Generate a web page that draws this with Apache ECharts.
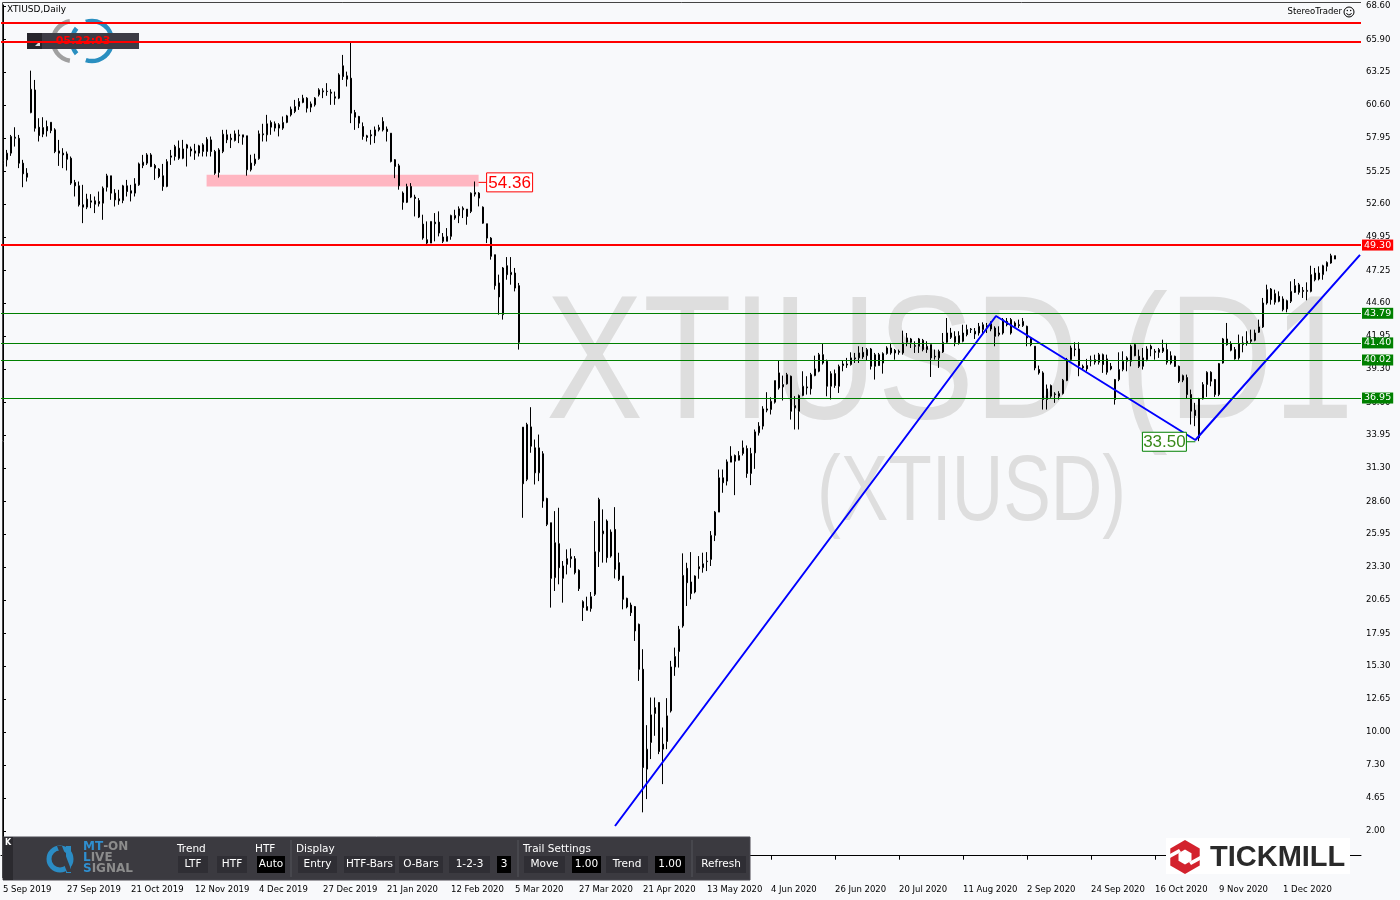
<!DOCTYPE html>
<html><head><meta charset="utf-8">
<script src="https://cdn.jsdelivr.net/npm/echarts@6/dist/echarts.min.js"></script>
<style>html,body{margin:0;padding:0;background:#f8f9fb;}#c{width:1400px;height:900px;}</style>
</head><body><div id="c"></div>
<script>
// ---------------- DATA ----------------
const OPEN=[55.91,56.18,56.72,57.92,57.92,55.91,55.10,59.99,61.82,58.81,58.25,58.87,59.21,58.60,56.90,56.72,56.66,56.31,54.35,54.08,52.55,52.36,52.76,52.87,52.63,52.68,53.97,54.89,53.49,53.03,52.90,54.08,53.68,53.49,54.16,55.72,55.91,56.58,55.72,55.43,54.89,54.03,56.39,56.45,57.12,57.06,57.12,57.06,56.90,56.72,56.85,56.85,57.79,56.85,55.16,56.85,58.20,57.80,57.74,58.12,58.01,58.12,55.38,55.86,56.27,58.20,58.20,59.20,59.09,59.01,58.74,59.20,59.81,60.08,60.48,60.81,61.16,60.43,60.62,61.43,61.67,61.72,61.64,61.27,61.16,63.77,62.96,62.77,60.00,59.68,58.87,58.12,58.20,58.12,58.60,59.28,58.66,58.33,56.19,55.70,53.50,52.75,54.03,53.17,52.90,50.99,49.73,49.46,51.15,51.15,49.95,49.60,50.00,51.48,51.66,52.15,52.20,52.01,53.41,53.49,52.36,51.02,49.86,48.52,46.24,43.68,47.63,46.91,47.04,46.02,34.60,30.38,34.62,32.93,30.91,32.45,28.84,26.88,22.45,25.19,22.39,23.52,24.14,23.98,23.04,20.51,20.11,19.95,21.10,24.54,25.99,27.02,24.19,26.34,23.66,22.58,20.78,20.24,20.11,18.68,15.05,6.99,9.14,11.48,12.37,8.60,9.22,11.69,15.24,16.48,18.55,23.20,22.10,21.29,23.33,23.25,23.74,23.92,25.86,27.74,30.51,30.24,31.77,32.31,31.93,32.47,32.87,30.86,32.52,34.14,34.68,35.97,36.02,36.61,38.98,37.85,38.09,38.71,36.15,35.88,37.15,37.85,37.69,38.76,39.11,40.45,39.92,37.90,38.92,37.90,39.57,39.62,39.65,40.11,40.19,40.64,40.37,40.91,39.51,40.45,39.78,40.54,40.59,40.80,40.72,40.59,41.45,41.72,41.18,41.13,41.61,40.86,41.26,40.32,40.19,40.67,41.45,42.20,41.45,41.40,41.53,42.47,42.47,42.34,42.20,42.47,42.66,42.52,42.60,42.07,42.20,43.14,43.28,43.01,42.87,42.79,42.74,41.80,41.13,39.25,38.98,36.83,37.09,37.28,37.09,37.31,38.36,40.05,40.91,40.91,39.51,39.57,39.94,39.84,39.84,40.45,39.03,39.51,38.44,38.44,39.25,39.92,39.92,41.26,40.32,39.51,40.05,41.13,40.72,40.64,40.72,40.86,39.78,40.32,39.51,38.39,38.60,37.23,35.97,33.74,36.88,38.04,39.03,38.44,37.23,39.78,41.72,41.32,40.86,40.19,41.26,41.40,41.66,41.61,42.26,42.69,44.62,45.75,44.68,45.16,44.95,44.14,44.76,46.02,45.48,45.64,45.56,45.56,47.04,46.56,46.91,47.58,47.85,48.44];
const CLOSE=[56.12,56.72,58.06,58.01,55.91,55.05,54.78,61.88,58.73,58.14,58.79,58.52,58.54,56.85,56.72,56.58,56.23,54.30,54.08,52.55,52.36,53.01,52.87,52.60,52.82,53.89,54.89,53.49,52.95,52.87,54.08,53.62,53.49,54.24,55.85,55.99,56.58,55.64,55.51,54.83,54.03,56.04,56.50,57.25,56.31,56.31,57.39,56.90,56.72,57.31,57.39,57.84,56.85,55.10,56.98,58.25,57.80,57.93,58.28,58.20,58.20,55.38,55.92,56.24,58.28,58.28,59.09,58.82,58.74,58.74,59.20,59.73,60.27,60.48,60.89,61.16,60.35,60.70,61.16,61.83,61.75,61.69,61.56,61.16,63.04,62.90,62.69,59.95,59.62,59.14,58.07,57.99,58.12,58.60,58.79,58.60,58.47,56.05,55.65,54.09,52.75,54.03,53.17,53.06,51.56,49.87,49.46,51.21,51.02,50.27,49.60,50.00,51.69,51.69,52.23,52.28,51.61,53.49,53.55,53.09,51.07,49.86,48.39,46.02,45.11,47.45,46.91,47.10,45.83,41.45,30.03,34.81,33.06,30.91,32.93,28.63,26.75,22.39,25.27,23.25,23.39,23.98,23.98,22.85,21.56,20.03,19.81,20.91,24.54,28.76,26.21,24.06,26.13,23.12,22.31,20.70,20.08,19.62,18.15,15.05,7.12,8.60,11.37,11.96,8.41,9.01,11.29,15.24,16.08,18.28,22.63,22.04,21.16,22.58,23.17,23.57,23.79,25.86,27.74,30.51,30.11,31.80,32.26,31.85,32.31,32.93,30.86,32.47,34.22,34.68,36.07,36.07,36.69,38.36,37.77,38.04,38.84,35.88,36.34,37.15,37.90,37.77,38.84,39.30,40.45,39.78,37.90,38.92,37.96,39.51,39.70,39.70,40.19,40.19,40.59,40.27,40.86,39.51,40.45,39.57,40.54,40.99,40.99,40.59,40.64,41.40,41.80,41.45,41.13,41.72,40.86,41.13,40.19,40.27,40.72,41.45,42.20,41.85,41.93,41.99,42.20,42.07,42.52,42.12,42.74,42.87,42.79,42.95,41.93,42.20,43.28,42.87,42.20,42.74,42.79,43.14,41.80,41.26,39.38,38.98,36.83,37.69,37.96,37.23,37.31,38.39,40.05,40.99,40.86,39.57,39.38,39.30,40.00,40.05,40.45,39.65,40.11,39.30,36.83,39.25,39.92,40.19,41.13,40.37,39.51,40.19,40.91,40.91,40.64,40.86,40.99,39.84,40.37,39.51,38.31,38.76,37.23,35.89,35.54,36.88,38.04,39.03,38.31,37.23,39.73,41.72,41.26,40.81,40.11,41.34,41.40,41.53,41.53,42.20,42.69,44.62,45.70,44.89,45.38,44.76,44.09,44.81,45.56,45.48,46.10,45.56,45.64,46.91,46.50,47.04,47.63,47.90,48.44,48.17];
const HIGH=[57.74,56.98,58.19,58.81,58.19,56.18,55.51,63.38,62.63,59.54,59.62,59.35,59.21,58.73,57.79,57.12,56.85,56.45,54.56,54.43,54.16,53.44,53.41,53.22,53.62,54.03,55.05,54.89,53.81,53.76,54.16,54.56,54.16,54.70,55.96,56.58,56.72,56.72,55.85,55.51,55.85,56.23,56.98,57.39,57.74,57.79,57.47,57.25,57.47,57.39,57.52,58.01,58.06,56.98,57.12,58.60,58.61,58.28,58.55,58.61,58.20,58.12,56.59,56.67,58.55,59.09,59.81,59.36,59.28,59.14,59.68,59.81,60.48,61.02,61.16,61.43,61.24,60.89,61.24,61.96,61.96,62.37,61.88,61.69,63.17,64.65,63.30,65.62,60.21,59.73,59.20,58.20,58.60,58.87,59.01,59.62,58.87,58.33,56.24,55.86,53.63,54.25,54.30,53.36,53.09,51.75,51.21,51.21,51.88,52.02,50.27,50.67,51.75,52.15,52.42,52.42,52.20,53.55,54.43,53.57,52.42,51.02,49.94,48.52,46.91,47.53,48.33,48.33,47.45,46.24,34.60,34.95,36.21,33.60,34.00,32.66,28.90,26.88,27.82,28.09,23.79,24.73,24.81,24.19,23.12,20.62,20.91,21.29,27.02,28.90,27.96,27.15,26.34,28.14,24.46,22.58,20.83,20.43,20.16,18.74,16.67,10.54,12.77,12.77,12.37,10.35,12.72,15.73,16.80,18.55,24.41,23.65,24.51,22.63,24.19,24.46,24.51,26.21,27.82,31.18,31.18,31.99,33.06,32.39,32.66,33.52,33.12,32.93,34.41,35.00,36.29,37.42,37.01,38.36,40.00,38.76,38.98,38.76,37.10,37.23,39.11,38.71,38.98,40.37,40.59,41.34,40.05,39.11,39.25,39.65,39.97,40.19,40.64,40.59,41.13,41.07,40.99,40.99,40.59,40.59,40.64,41.13,41.40,40.91,40.86,42.39,42.20,41.80,41.53,41.80,41.72,41.53,41.26,40.86,40.86,42.20,43.41,42.61,42.34,42.34,42.87,42.87,42.60,42.60,43.01,43.06,43.01,43.14,42.74,42.74,43.41,43.41,43.41,43.14,43.28,43.41,42.79,41.80,41.13,39.57,39.11,38.04,38.04,37.42,37.50,38.49,40.19,41.18,41.45,41.45,39.65,40.11,40.37,40.45,40.59,40.54,40.45,39.78,38.49,40.64,40.72,40.32,41.26,41.34,40.86,40.99,41.13,41.26,40.91,40.99,41.66,41.40,40.72,40.37,39.57,38.84,38.84,37.63,36.56,36.96,38.23,39.11,39.11,38.49,39.78,41.80,43.01,41.53,41.07,42.07,41.93,42.34,42.47,42.47,43.28,45.03,46.10,45.83,45.70,45.56,45.16,44.89,46.37,46.56,46.24,45.91,46.29,47.63,47.45,47.58,47.71,47.98,48.60,48.44];
const LOW=[55.64,55.64,56.50,57.25,55.51,53.97,54.43,59.94,58.46,57.66,58.01,58.06,58.33,56.72,55.69,55.51,55.32,54.16,53.22,52.41,51.07,52.20,52.28,51.88,52.41,51.34,53.62,52.95,52.41,52.55,52.68,53.22,52.82,53.22,54.08,55.51,55.77,55.59,54.56,54.70,53.68,53.97,55.77,56.12,56.18,56.23,55.64,56.45,56.18,56.45,56.45,56.45,56.45,54.97,54.75,56.72,57.53,57.13,57.66,57.53,57.40,54.90,55.24,55.70,56.19,57.66,57.66,58.20,58.47,58.07,58.60,59.14,59.68,59.95,60.21,60.75,60.00,60.03,60.48,61.29,61.16,61.35,60.62,60.62,61.08,62.63,62.10,59.14,58.60,58.74,57.80,57.66,57.40,57.53,58.47,58.47,57.66,55.97,54.70,53.77,52.15,52.69,53.09,51.61,51.48,49.73,49.33,49.46,49.60,50.00,49.46,49.60,49.73,51.34,51.07,51.48,50.94,51.88,53.22,52.42,51.02,49.46,48.12,45.70,43.68,43.28,46.50,46.10,45.56,40.86,27.28,30.24,32.53,29.97,30.24,28.09,26.61,20.03,21.37,21.91,20.43,22.71,23.25,22.71,21.37,18.95,19.81,19.70,20.97,23.31,23.66,23.66,24.06,22.39,22.18,19.89,19.97,19.35,17.34,14.11,3.50,4.57,7.80,9.68,8.20,5.78,8.60,11.56,14.52,15.19,18.41,20.16,20.70,21.18,22.36,22.85,22.98,23.39,25.40,27.74,29.30,29.89,31.77,29.11,31.91,32.31,30.51,29.92,31.23,33.92,34.41,35.80,35.62,36.50,37.63,36.75,38.04,35.21,34.41,34.41,37.10,37.23,37.23,38.71,39.03,39.65,37.09,36.83,37.77,37.36,39.11,39.38,39.57,39.78,39.78,40.11,39.97,39.25,38.44,39.57,38.92,40.45,40.45,40.05,40.45,40.45,41.13,40.99,40.59,40.59,40.72,40.59,38.65,40.05,39.38,40.59,41.40,41.72,41.13,41.26,41.45,41.93,42.20,41.72,41.99,42.20,42.20,42.34,41.13,41.93,42.07,42.74,42.07,42.60,42.60,42.69,41.13,41.13,39.19,38.84,36.02,36.02,36.96,36.56,36.83,37.23,38.31,40.00,40.32,38.71,39.25,39.11,39.51,39.65,39.65,38.98,38.84,39.19,36.42,38.31,39.11,39.11,39.51,40.32,39.38,39.25,39.92,40.32,40.05,40.19,40.59,39.65,39.65,39.46,38.17,38.23,36.90,34.81,34.68,33.47,36.83,37.04,37.90,37.04,37.10,39.73,41.18,40.72,40.05,40.05,40.64,41.18,41.40,41.53,42.20,42.61,44.49,44.49,44.49,44.68,43.95,43.87,44.62,45.43,45.30,45.03,44.84,45.48,46.37,46.45,46.50,47.18,47.79,48.17];

const FIRST_DAY='2019-09-05';
const HOLIDAYS=['2019-12-25','2020-01-01','2020-04-10'];
const SLOTS=340;                       // bar slots incl. right shift
const LABEL_EVERY=16;
const Y_TICKS=[68.60,65.90,63.25,60.60,57.95,55.25,52.60,49.95,47.25,44.60,41.95,39.30,36.60,33.95,31.30,28.60,25.95,23.30,20.65,17.95,15.30,12.65,10.00,7.30,4.65,2.00];
const RED_LINES=[67.26,65.72];
const LEVELS=[
  {v:49.30,color:'#ff0000',w:2},
  {v:43.79,color:'#008000',w:1},
  {v:41.40,color:'#008000',w:1},
  {v:40.02,color:'#008000',w:1},
  {v:36.95,color:'#008000',w:1}
];
const TREND=[[153.0,2.40],[248.25,43.57],[298.1,33.56],[339.25,48.50]];
const ZONE={from:50.9,to:118.9,top:54.97,bottom:54.03,level:54.36,label:'54.36'};
const LOW_MARK={at:298.1,v:33.50,label:'33.50'};
const BUTTONS=[
 ['LTF',178,30,0],['HTF',217,30,0],['Auto',257,28,1],
 ['Entry',298,39,0],['HTF-Bars',344,51,0],['O-Bars',399,44,0],['1-2-3',449,41,0],['3',497,14,1],
 ['Move',524,41,0],['1.00',572,29,1],['Trend',606,42,0],['1.00',655,30,1],['Refresh',696,50,0]
];
const PANEL_LABELS=[['Trend',177],['HTF',255],['Display',296],['Trail Settings',523]];

// ---------------- BUILD ----------------
const MONTHS=['Jan','Feb','Mar','Apr','May','Jun','Jul','Aug','Sep','Oct','Nov','Dec'];
function buildDates(){
  const out=[];let t=Date.parse(FIRST_DAY+'T00:00:00Z');
  while(out.length<SLOTS){const d=new Date(t);const wd=d.getUTCDay();const iso=d.toISOString().slice(0,10);
    if(wd!==0&&wd!==6&&HOLIDAYS.indexOf(iso)<0)out.push(d.getUTCDate()+' '+MONTHS[d.getUTCMonth()]+' '+d.getUTCFullYear());
    t+=86400000;}
  return out;
}
const DATES=buildDates();
const NBARS=OPEN.length;
const candles=OPEN.map((o,i)=>[o,CLOSE[i],LOW[i],HIGH[i]]);
const FONT='"DejaVu Sans", Verdana, sans-serif';
const showIdx=(i)=>i%LABEL_EVERY===0&&i<NBARS;

const markLines=[];
RED_LINES.forEach(v=>markLines.push({yAxis:v,lineStyle:{color:'#ff0000',width:2,type:'solid'},label:{show:false}}));
LEVELS.forEach(l=>markLines.push({yAxis:l.v,lineStyle:{color:l.color,width:l.w,type:'solid'},
  label:{show:true,position:'end',distance:1,formatter:l.v.toFixed(2),color:'#fff',backgroundColor:l.color,
  padding:[1,2,0,2],fontSize:9.5,fontFamily:FONT}}));

const chart=echarts.init(document.getElementById('c'));
const staticG=[];
// watermark
staticG.push({type:'text',z:0,x:546,y:369,scaleX:0.826,originX:0,originY:0,silent:true,
  style:{text:'XTIUSD (D1',font:'176px "Liberation Sans", Arial',fill:'#dedede',textVerticalAlign:'middle'}});
staticG.push({type:'text',z:0,x:817,y:495,scaleX:0.775,originX:0,originY:0,silent:true,
  style:{text:'(XTIUSD)',font:'92px "Liberation Sans", Arial',fill:'#dedede',textVerticalAlign:'middle'}});
// title
staticG.push({type:'text',z:5,x:7,y:10,style:{text:'XTIUSD,Daily',font:'9px '+FONT,fill:'#000',textVerticalAlign:'middle'}});
staticG.push({type:'text',z:5,x:1342,y:12,style:{text:'StereoTrader',font:'8.5px '+FONT,fill:'#000',textAlign:'right',textVerticalAlign:'middle'}});
staticG.push({type:'circle',z:5,shape:{cx:1349,cy:12,r:5},style:{fill:'none',stroke:'#000',lineWidth:1}});
staticG.push({type:'circle',z:5,shape:{cx:1347.3,cy:10.5,r:0.7},style:{fill:'#000'}});
staticG.push({type:'circle',z:5,shape:{cx:1350.7,cy:10.5,r:0.7},style:{fill:'#000'}});
staticG.push({type:'arc',z:5,shape:{cx:1349,cy:12.3,r:2.6,startAngle:0.3,endAngle:Math.PI-0.3},style:{fill:'none',stroke:'#000',lineWidth:1}});
// top-left logo
staticG.push({type:'arc',z:1,shape:{cx:73,cy:41,r:20,startAngle:Math.PI*0.55,endAngle:Math.PI*1.45},style:{fill:'none',stroke:'#a0a0a0',lineWidth:4.5}});
staticG.push({type:'arc',z:1,shape:{cx:92,cy:41,r:20,startAngle:-Math.PI*0.6,endAngle:Math.PI*0.6},style:{fill:'none',stroke:'#2a8fc0',lineWidth:4.5}});
staticG.push({type:'arc',z:1,shape:{cx:92,cy:41,r:20,startAngle:Math.PI*0.78,endAngle:Math.PI*1.22},style:{fill:'none',stroke:'#2a8fc0',lineWidth:4.5}});
staticG.push({type:'rect',z:1,shape:{x:27,y:33,width:112,height:16},style:{fill:'#3d3c45'}});
staticG.push({type:'rect',z:1,shape:{x:27,y:33,width:15,height:16},style:{fill:'#26252b'}});
staticG.push({type:'polygon',z:1,shape:{points:[[35,46],[40,46],[40,41]]},style:{fill:'#ddd'}});
staticG.push({type:'text',z:1,x:83,y:41,style:{text:'05:22:03',font:'bold 11px '+FONT,fill:'#ff0000',textAlign:'center',textVerticalAlign:'middle'}});
// bottom panel
staticG.push({type:'rect',z:100,shape:{x:3,y:837,width:747,height:43},style:{fill:'#3b3a40',stroke:'#4a4950',lineWidth:1}});
staticG.push({type:'rect',z:100,shape:{x:3,y:837,width:10,height:43},style:{fill:'#2b2a2f'}});
staticG.push({type:'text',z:101,x:8,y:843,style:{text:'K',font:'bold 8px '+FONT,fill:'#fff',textAlign:'center',textVerticalAlign:'middle'}});
staticG.push({type:'arc',z:101,shape:{cx:60,cy:859,r:11,startAngle:0,endAngle:Math.PI*2},style:{fill:'none',stroke:'#2b8cc4',lineWidth:5}});
staticG.push({type:'rect',z:101,shape:{x:66,y:846,width:5,height:27},style:{fill:'#2b8cc4'}});
staticG.push({type:'polygon',z:101,shape:{points:[[57,846],[62,846],[72,872],[67,872]]},style:{fill:'#3b3a40'}});
staticG.push({type:'text',z:101,x:83,y:847,style:{rich:{b:{fill:'#2f8fd0',font:'bold 12px '+FONT},g:{fill:'#8c8c8c',font:'bold 12px '+FONT}},text:'{b|MT}{g|-ON}',textVerticalAlign:'middle'}});
staticG.push({type:'text',z:101,x:83,y:858,style:{rich:{b:{fill:'#2f8fd0',font:'bold 12px '+FONT},g:{fill:'#8c8c8c',font:'bold 12px '+FONT}},text:'{b|L}{g|IVE}',textVerticalAlign:'middle'}});
staticG.push({type:'text',z:101,x:83,y:869,style:{rich:{b:{fill:'#2f8fd0',font:'bold 12px '+FONT},g:{fill:'#8c8c8c',font:'bold 12px '+FONT}},text:'{b|S}{g|IGNAL}',textVerticalAlign:'middle'}});
PANEL_LABELS.forEach(p=>staticG.push({type:'text',z:101,x:p[1],y:849,style:{text:p[0],font:'10.5px '+FONT,fill:'#fff',textVerticalAlign:'middle'}}));
[291,518,692].forEach(x=>staticG.push({type:'line',z:101,shape:{x1:x,y1:840,x2:x,y2:877},style:{stroke:'#55545a',lineWidth:1}}));
BUTTONS.forEach(b=>{
  staticG.push({type:'rect',z:101,shape:{x:b[1],y:856,width:b[2],height:17},style:{fill:b[3]?'#000':'#2f2e34'}});
  staticG.push({type:'text',z:102,x:b[1]+b[2]/2,y:864.5,style:{text:b[0],font:'10.5px '+FONT,fill:'#fff',textAlign:'center',textVerticalAlign:'middle'}});
});
// Tickmill logo
staticG.push({type:'rect',z:100,shape:{x:1166,y:838,width:184,height:36},style:{fill:'#ffffff'}});
(function(){const cx=1185,cy=857,r=17,pts=[],pin=[];for(let k=0;k<6;k++){const a=Math.PI/6+k*Math.PI/3;pts.push([cx+r*Math.cos(a),cy+r*Math.sin(a)]);pin.push([cx+7.5*Math.cos(a),cy+7.5*Math.sin(a)]);}
 staticG.push({type:'polygon',z:101,shape:{points:pts},style:{fill:'#d3222d'}});
 staticG.push({type:'polygon',z:102,shape:{points:pin},style:{fill:'#ffffff'}});
 staticG.push({type:'polygon',z:102,shape:{points:[[cx-17,cy-2],[cx-6,cy-8],[cx-4,cy-5],[cx-15,cy+1]]},style:{fill:'#ffffff'}});
 staticG.push({type:'polygon',z:102,shape:{points:[[cx+17,cy+2],[cx+6,cy+8],[cx+4,cy+5],[cx+15,cy-1]]},style:{fill:'#ffffff'}});
})();
staticG.push({type:'text',z:102,x:1210,y:858,style:{text:'TICKMILL',font:'bold 29px "Liberation Sans", Arial',fill:'#2a2a2a',textVerticalAlign:'middle'}});
// frame
staticG.push({type:'polyline',z:3,shape:{points:[[2.5,878],[2.5,2.5],[1361,2.5]]},style:{stroke:'#444',lineWidth:1,fill:'none'}});

const option={
  animation:false,
  backgroundColor:'#f8f9fb',
  grid:{left:1,right:39,top:5,bottom:22,containLabel:false},
  xAxis:[
    {type:'category',data:DATES,boundaryGap:true,
     axisLine:{show:true,lineStyle:{color:'#000',width:1}},
     axisTick:{show:true,alignWithLabel:true,interval:(i)=>showIdx(i),length:4,lineStyle:{color:'#000'}},
     axisLabel:{show:true,interval:(i)=>showIdx(i),align:'left',margin:7,fontSize:8.5,color:'#000',fontFamily:FONT},
     splitLine:{show:false}},
    {type:'value',min:-0.5,max:SLOTS-0.5,show:false,splitLine:{show:false}}
  ],
  yAxis:[{type:'value',position:'right',min:-1.80,max:68.68,scale:true,
     axisLine:{show:true,lineStyle:{color:'#000'}},
     axisTick:{show:true,length:3,customValues:Y_TICKS,lineStyle:{color:'#000'}},
     axisLabel:{show:true,customValues:Y_TICKS,formatter:(v)=>Number(v).toFixed(2),margin:5,padding:[5,0,0,0],fontSize:8.5,color:'#000',fontFamily:FONT},
     splitLine:{show:false}}],
  series:[
    {type:'line',name:'zone',xAxisIndex:1,yAxisIndex:0,data:[[ZONE.from,ZONE.top]],symbol:'none',lineStyle:{opacity:0},z:1,silent:true,
     markArea:{silent:true,itemStyle:{color:'#ffb6c1',opacity:1},data:[[{coord:[ZONE.from,ZONE.top]},{coord:[ZONE.to,ZONE.bottom]}]]}},
    {type:'candlestick',name:'XTIUSD',xAxisIndex:0,yAxisIndex:0,data:candles,barWidth:2,z:2,silent:true,
     itemStyle:{color:'#ffffff',color0:'#000000',borderColor:'#000000',borderColor0:'#000000',borderColorDoji:'#000000',borderWidth:1},
     markLine:{silent:true,symbol:['none','none'],data:markLines}},
    {type:'line',name:'trend',xAxisIndex:1,yAxisIndex:0,data:TREND,symbol:'none',z:3,silent:true,
     lineStyle:{color:'#0000ff',width:2}}
  ],
  graphic:staticG
};
chart.setOption(option);

// labels anchored to data via the axes
const toPx=(x,y)=>chart.convertToPixel({xAxisIndex:1,yAxisIndex:0},[x,y]);
const zEnd=toPx(ZONE.to,ZONE.level);
const lowP=toPx(LOW_MARK.at,LOW_MARK.v);
const dyn=[
  {id:'zl',type:'line',z:4,shape:{x1:zEnd[0],y1:zEnd[1],x2:zEnd[0]+8,y2:zEnd[1]},style:{stroke:'#ff0000',lineWidth:1}},
  {id:'zr',type:'rect',z:4,shape:{x:zEnd[0]+8,y:zEnd[1]-9.5,width:46,height:19},style:{fill:'#ffffff',stroke:'#ff0000',lineWidth:1}},
  {id:'zt',type:'text',z:5,x:zEnd[0]+31,y:zEnd[1]+0.5,style:{text:ZONE.label,font:'17px "Liberation Sans", Arial',fill:'#ff0000',textAlign:'center',textVerticalAlign:'middle'}},
  {id:'ll',type:'line',z:4,shape:{x1:lowP[0]-9,y1:lowP[1]+1,x2:lowP[0],y2:lowP[1]+1},style:{stroke:'#008000',lineWidth:1}},
  {id:'lr',type:'rect',z:4,shape:{x:lowP[0]-53,y:lowP[1]-8.5,width:44,height:19},style:{fill:'#ffffff',stroke:'#008000',lineWidth:1}},
  {id:'lt',type:'text',z:5,x:lowP[0]-31,y:lowP[1]+1.5,style:{text:LOW_MARK.label,font:'17px "Liberation Sans", Arial',fill:'#3a8a1a',textAlign:'center',textVerticalAlign:'middle'}}
];
chart.setOption({graphic:staticG.concat(dyn)});
</script></body></html>
